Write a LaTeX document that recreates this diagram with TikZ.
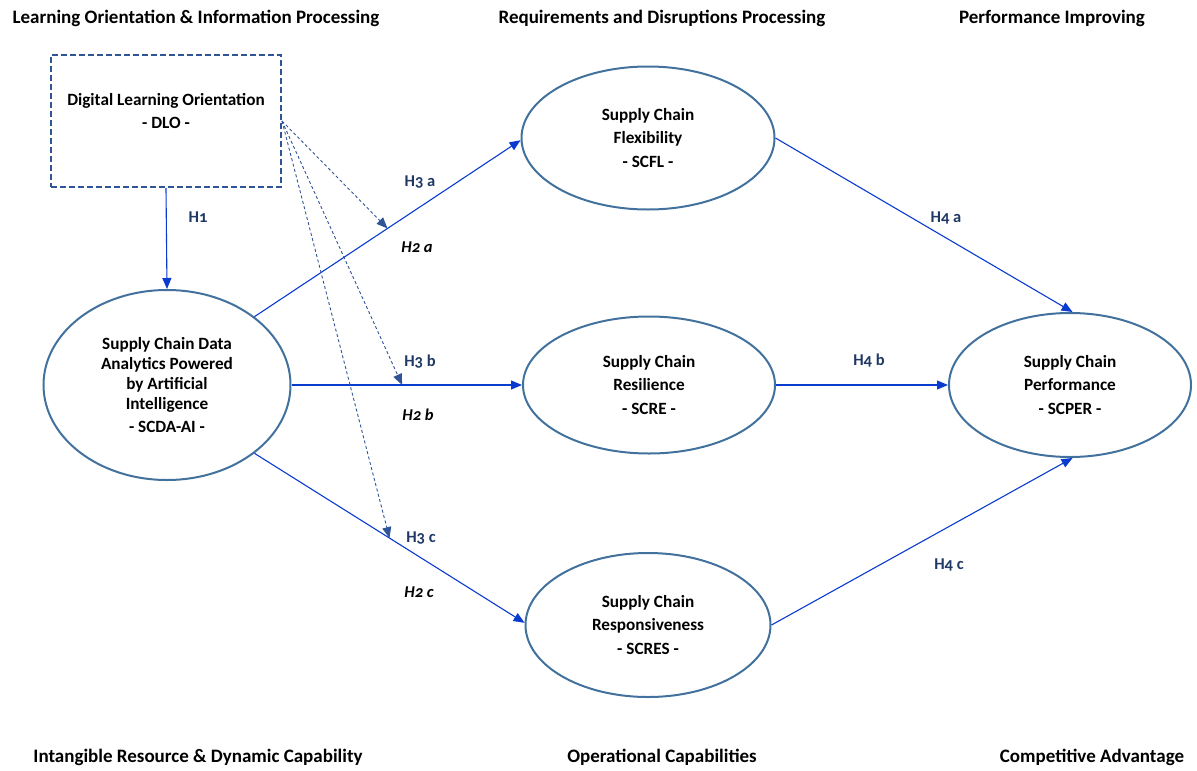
\documentclass[tikz,border=0pt]{standalone}
\usepackage{fontspec}
\setmainfont{Carlito}
\usetikzlibrary{shapes.geometric,arrows.meta}
\definecolor{ellc}{HTML}{41719C}
\definecolor{boxc}{HTML}{2F5597}
\definecolor{arrc}{HTML}{0A3BCF}
\definecolor{labc}{HTML}{1F3864}
\begin{document}
\begin{tikzpicture}[x=1pt,y=-1pt,
  head/.style={font=\fontsize{19}{23}\selectfont\bfseries, inner sep=0pt},
  txt/.style={font=\fontsize{17.2}{23.5}\selectfont\bfseries, align=center, inner sep=0pt},
  ell/.style={ellipse, draw=ellc, line width=2pt, inner sep=0pt, align=center,
    font=\fontsize{17.2}{23.5}\selectfont\bfseries},
  hlab/.style={font=\fontsize{16.5}{19}\selectfont\bfseries\addfontfeatures{Numbers=OldStyle}, text=labc, inner sep=0pt},
  hit/.style={font=\fontsize{16.5}{19}\selectfont\bfseries\itshape\addfontfeatures{Numbers=OldStyle}, text=black, inner sep=0pt},
  sol/.style={draw=arrc, line width=1.1pt, -{Triangle[length=11pt,width=9pt]}},
  dsh/.style={draw=boxc, line width=0.9pt, dash pattern=on 3pt off 2.5pt, -{Triangle[length=11pt,width=9pt,fill=boxc]}}
]
\useasboundingbox (0,0) rectangle (1197,771);

% headings
\node[head] (t1) at (196,18) {Learning Orientation \& Information Processing};
\node[head] (t2) at (662,18) {Requirements and Disruptions Processing};
\node[head] (t3) at (1052,18) {Performance Improving};
\node[head] (b1) at (198,757) {Intangible Resource \& Dynamic Capability};
\node[head] (b2) at (662,757) {Operational Capabilities};
\node[head] (b3) at (1092,757) {Competitive Advantage};

% DLO box
\node[draw=boxc, line width=2pt, dash pattern=on 6pt off 3pt, minimum width=230, minimum height=132, inner sep=0pt] (dlo) at (166,121) {};
\node[txt] (dlotext) at (166,111) {Digital Learning Orientation\\- DLO -};

% ellipses
\node[ell, minimum width=247, minimum height=190, font=\fontsize{17.2}{20}\selectfont\bfseries] (scda) at (167,385)
  {Supply Chain Data\\Analytics Powered\\by Artificial\\Intelligence\\[3pt]- SCDA-AI -};
\node[ell, minimum width=253, minimum height=143] (scfl) at (648,138) {Supply Chain\\Flexibility\\- SCFL -};
\node[ell, minimum width=252, minimum height=137] (scre) at (649,385) {Supply Chain\\Resilience\\- SCRE -};
\node[ell, minimum width=245, minimum height=144] (scres) at (648,625) {Supply Chain\\Responsiveness\\- SCRES -};
\node[ell, minimum width=242, minimum height=144] (scper) at (1070,385) {Supply Chain\\Performance\\- SCPER -};

% solid arrows
\draw[sol] (dlo.south) -- (scda.north);
\draw[sol] (scda.38) -- coordinate (ma) (scfl.181);
\draw[sol] (scda.east) -- coordinate[pos=0.48] (mb) (scre.west);
\draw[sol] (scda.-38) -- coordinate (mc) (scres.179);
\draw[sol] (scfl.east) -- (scper.88);
\draw[sol] (scre.east) -- (scper.west);
\draw[sol] (scres.east) -- (scper.272);

% dashed arrows
\draw[dsh] (dlo.east) -- (ma);
\draw[dsh] (dlo.east) -- (mb);
\draw[dsh] (dlo.east) -- (mc);

% labels
\node[hlab] (h1) at (198,217) {H1};
\node[hlab] (h3a) at (420,182) {H3 a};
\node[hit] (h2a) at (417,247) {H2 a};
\node[hlab] (h3b) at (420,362) {H3 b};
\node[hit] (h2b) at (418,415) {H2 b};
\node[hlab] (h3c) at (421,538) {H3 c};
\node[hit] (h2c) at (419,592) {H2 c};
\node[hlab] (h4a) at (946,218) {H4 a};
\node[hlab] (h4b) at (869,361) {H4 b};
\node[hlab] (h4c) at (949,565) {H4 c};
\end{tikzpicture}
\end{document}
